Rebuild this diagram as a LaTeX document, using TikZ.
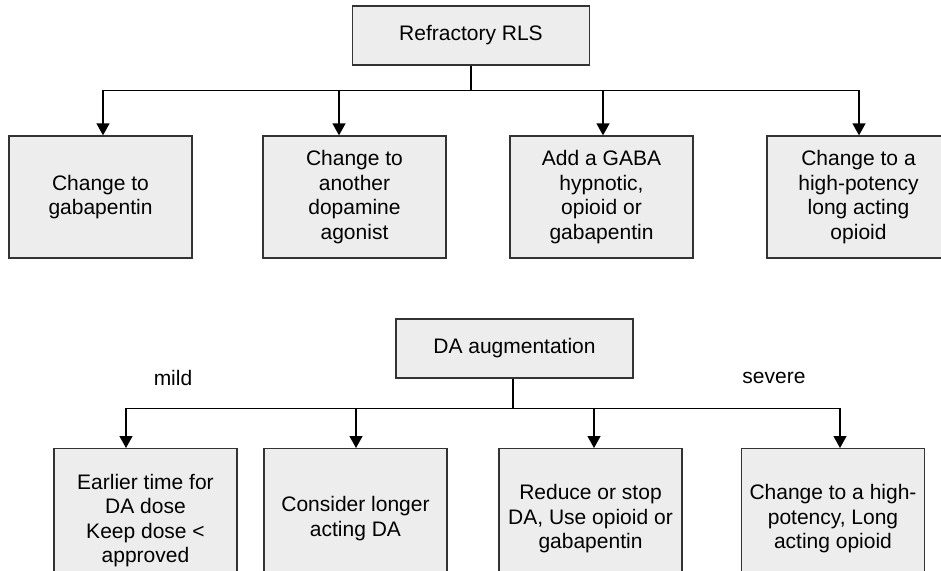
\documentclass[tikz,border=0pt]{standalone}
\usepackage{fontspec}
\setmainfont{Liberation Sans}
\usetikzlibrary{arrows.meta,positioning}
\definecolor{boxgrey}{HTML}{EDEDED}
\definecolor{rimgrey}{HTML}{333333}
\tikzset{
	box/.style={rectangle,draw=rimgrey,fill=boxgrey,line width=1.3pt,minimum width=183pt,minimum height=122pt,align=center,inner sep=2pt,font=\fontsize{21}{24.5}\selectfont},
	lowbox/.style={box,minimum height=140pt,anchor=north},
	headbox/.style={box,minimum width=237pt,minimum height=59pt},
	diredge/.style={->,>={Triangle[width=13pt,length=12pt]},color=black,line width=1.3pt},
	sevlabel/.style={font=\fontsize{21}{24.5}\selectfont}
}
\begin{document}
\begin{tikzpicture}[x=1pt,y=-1pt]
	\path[use as bounding box] (0,0) rectangle (941,570);
	\clip (0,0) rectangle (941,570);

	% refractory branch
	\node[headbox] (rls) at (471,35.5) {Refractory RLS};
	\node[box] (gaba) at (100.5,197) {Change to\\gabapentin};
	\node[box] (dopa) at (354.5,197) {Change to\\another\\dopamine\\agonist};
	\node[box] (hyp) at (601.5,197) {Add a GABA\\hypnotic,\\opioid or\\gabapentin};
	\node[box] (opi) at (858.5,197) {Change to a\\high-potency\\long acting\\opioid};

	\draw[diredge] (rls.south) -- ++(0,25) -| ([xshift=2.5pt]gaba.north);
	\draw[diredge] (rls.south) -- ++(0,25) -| ([xshift=-15.5pt]dopa.north);
	\draw[diredge] (rls.south) -- ++(0,25) -| ([xshift=1.5pt]hyp.north);
	\draw[diredge] (rls.south) -- ++(0,25) -| ([xshift=0.5pt]opi.north);

	% augmentation branch
	\node[headbox] (aug) at (514.5,348.5) {DA augmentation};
	\node[lowbox,minimum height=144pt] (early) at (145.5,448) {Earlier time for\\DA dose\\Keep dose <\\approved};
	\node[lowbox] (longer) at (355.5,448) {Consider longer\\acting DA};
	\node[lowbox] (reduce) at (590.5,448) {Reduce or stop\\DA, Use opioid or\\gabapentin};
	\node[lowbox] (potent) at (833,448) {Change to a high-\\potency, Long\\acting opioid};

	\draw[diredge] ([xshift=-1.5pt]aug.south) -- ++(0,30) -| ([xshift=-19.5pt]early.north);
	\draw[diredge] ([xshift=-1.5pt]aug.south) -- ++(0,30) -| ([xshift=0.5pt]longer.north);
	\draw[diredge] ([xshift=-1.5pt]aug.south) -- ++(0,30) -| ([xshift=3.5pt]reduce.north);
	\draw[diredge] ([xshift=-1.5pt]aug.south) -- ++(0,30) -| ([xshift=7pt]potent.north);

	\node[sevlabel] (mild) at (173,378) {mild};
	\node[sevlabel] (severe) at (774,378) {severe};
\end{tikzpicture}
\end{document}
